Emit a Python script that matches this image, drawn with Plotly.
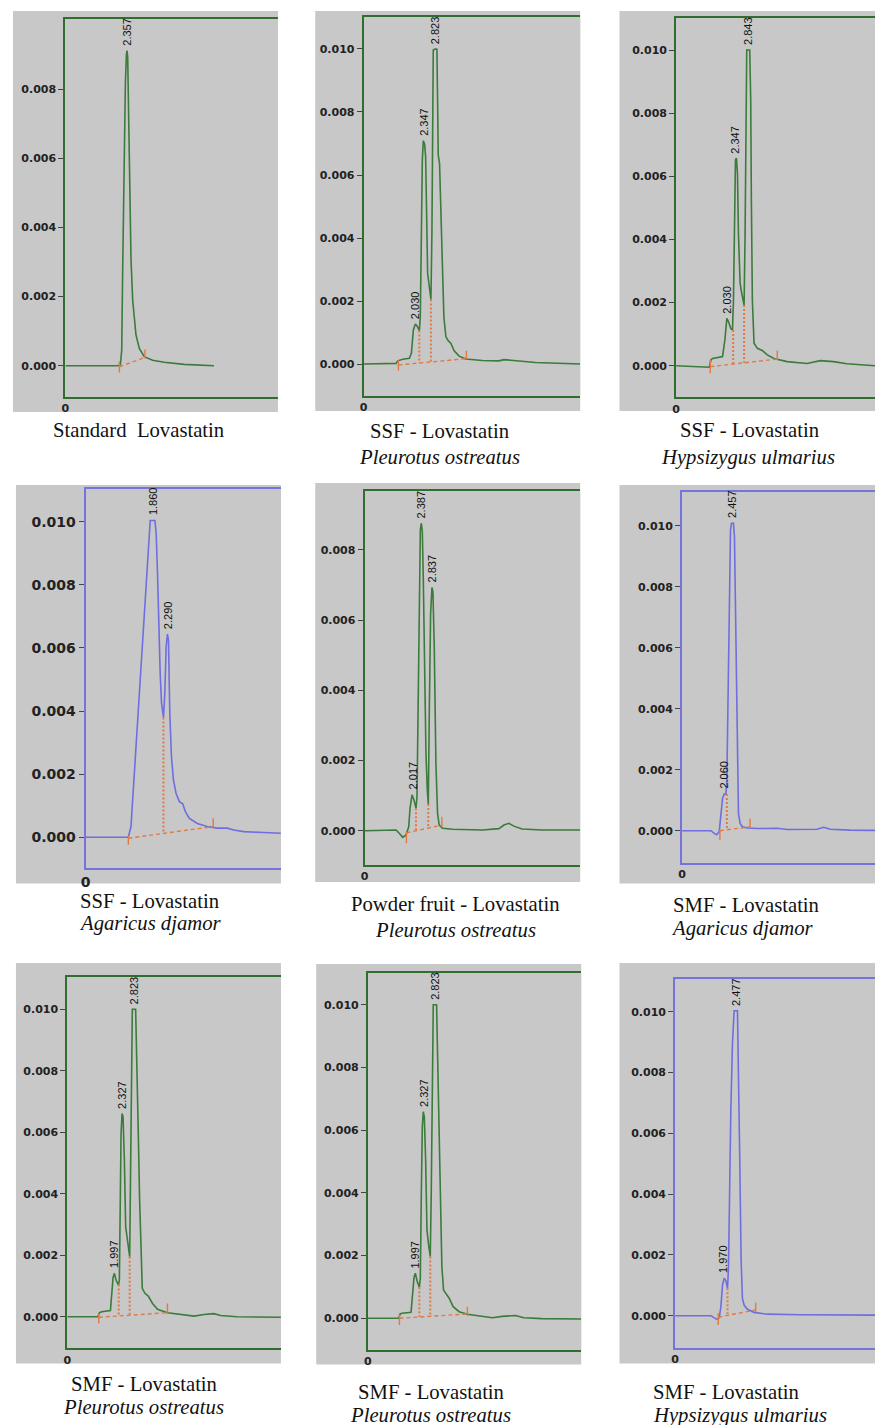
import plotly.graph_objects as go

W, H = 875, 1425

# ---------------- data (retention time in min, absorbance in AU) ----------------
caption_main = ["Standard  Lovastatin", "SSF - Lovastatin", "SSF - Lovastatin",
                "SSF - Lovastatin", "Powder fruit - Lovastatin", "SMF - Lovastatin",
                "SMF - Lovastatin", "SMF - Lovastatin", "SMF - Lovastatin"]
caption_species = ["", "Pleurotus ostreatus", "Hypsizygus ulmarius",
                   "Agaricus djamor", "Pleurotus ostreatus", "Agaricus djamor",
                   "Pleurotus ostreatus", "Pleurotus ostreatus", "Hypsizygus ulmarius"]
y_tick_values = [0.000, 0.002, 0.004, 0.006, 0.008, 0.010]
x_tick_values = [0]
x_tick_labels = ["0"]

# Panel 1: Standard lovastatin
p1_time = [0, 2.001, 2.103, 2.153, 2.191, 2.242, 2.293, 2.331, 2.356, 2.381, 2.407, 2.432,
           2.457, 2.508, 2.572, 2.635, 2.698, 2.825, 3.015, 3.332, 3.776, 4.536, 5.677]
p1_abs = [0, 0, 0.00003, 0.00045, 0.00287, 0.00576, 0.00817, 0.00899, 0.00912, 0.00894, 0.00769,
          0.00624, 0.00479, 0.00306, 0.0019, 0.00127, 0.00089, 0.0005, 0.00026, 0.00016, 0.0001,
          0.00004, 0]
p1_peak_rt = [2.357]
p1_peak_abs = [0.00912]
p1_base_t = [2.065, 3.041]
p1_base_v = [-0.00003, 0.00024]
p1_mark_hi = [0.00012, 0.00047]
p1_mark_lo = [-0.0002, 0.00021]
p1_drop_t, p1_drop_top, p1_drop_bot = [], [], []

# Panel 2: SSF - Pleurotus ostreatus
p2_time = [0, 1.28, 1.345, 1.541, 1.803, 1.881, 1.96, 2.038, 2.116, 2.195, 2.234, 2.273, 2.313,
           2.352, 2.404, 2.443, 2.482, 2.522, 2.587, 2.652, 2.691, 2.718, 2.744, 2.809, 2.888,
           2.914, 2.94, 2.992, 3.031, 3.084, 3.162, 3.24, 3.332, 3.436, 3.567, 3.764, 4.025,
           4.678, 5.332, 5.528, 5.789, 6.247, 6.77, 8.535]
p2_abs = [0, 0.00002, 0.0001, 0.00015, 0.00018, 0.00034, 0.00108, 0.00127, 0.00119, 0.00106,
          0.0015, 0.00415, 0.00648, 0.00709, 0.00698, 0.00658, 0.00415, 0.00288, 0.00246, 0.00205,
          0.00415, 0.00732, 0.00997, 0.0100, 0.00999, 0.00838, 0.00663, 0.00637, 0.00521, 0.00309,
          0.0015, 0.00087, 0.00074, 0.00066, 0.00042, 0.00025, 0.00016, 0.00011, 0.0001, 0.00014,
          0.00012, 0.00008, 0.00005, 0]
p2_peak_rt = [2.030, 2.347, 2.823]
p2_peak_abs = [0.00127, 0.00709, 0.0100]
p2_base_t = [1.371, 4.051]
p2_base_v = [-0.00003, 0.00017]
p2_mark_hi = [0.00013, 0.00042]
p2_mark_lo = [-0.00021, 0.00015]
p2_drop_t = [2.195, 2.652]
p2_drop_top = [0.00106, 0.00205]
p2_drop_bot = [0.00003, 0.00007]

# Panel 3: SSF - Hypsizygus ulmarius
p3_time = [0, 1.115, 1.312, 1.378, 1.444, 1.837, 1.929, 2.008, 2.074, 2.165, 2.231, 2.27, 2.31,
           2.349, 2.389, 2.428, 2.467, 2.533, 2.598, 2.69, 2.73, 2.769, 2.795, 2.913, 2.953,
           2.979, 3.018, 3.084, 3.215, 3.412, 3.609, 3.871, 4.396, 5.184, 5.709, 6.234, 6.759,
           7.874]
p3_abs = [0, -0.00003, -0.00005, 0.00018, 0.00023, 0.00029, 0.00081, 0.0015, 0.00139, 0.00118,
          0.00113, 0.00208, 0.00472, 0.00652, 0.00657, 0.00609, 0.00419, 0.00261, 0.00229,
          0.00192, 0.00419, 0.00736, 0.0100, 0.0100, 0.00842, 0.00525, 0.00208, 0.00071, 0.00055,
          0.00048, 0.00034, 0.00023, 0.00013, 0.00007, 0.00016, 0.00013, 0.00006, 0]
p3_peak_rt = [2.030, 2.347, 2.843]
p3_peak_abs = [0.0015, 0.00657, 0.0100]
p3_base_t = [1.352, 4.003]
p3_base_v = [-0.00003, 0.00021]
p3_mark_hi = [0.00018, 0.00048]
p3_mark_lo = [-0.00024, 0.00018]
p3_drop_t = [2.257, 2.69]
p3_drop_top = [0.00113, 0.00192]
p3_drop_bot = [0.00005, 0.00009]

# Panel 4: SSF - Agaricus djamor
p4_time = [0, 1.188, 1.262, 1.4, 1.538, 1.676, 1.749, 1.796, 1.925, 1.961, 1.998, 2.035, 2.072,
           2.109, 2.164, 2.201, 2.238, 2.274, 2.302, 2.339, 2.385, 2.44, 2.514, 2.606, 2.698,
           2.772, 2.882, 3.103, 3.379, 3.656, 3.932, 4.116, 4.392, 4.945, 5.424]
p4_abs = [0, 0, 0.00034, 0.00287, 0.00552, 0.00816, 0.00953, 0.01004, 0.01004, 0.00964, 0.00837,
          0.00657, 0.0052, 0.00425, 0.0038, 0.00456, 0.00604, 0.00644, 0.00625, 0.00393, 0.00256,
          0.00182, 0.00139, 0.00113, 0.00106, 0.00081, 0.0006, 0.00044, 0.00034, 0.00029,
          0.00029, 0.00023, 0.00018, 0.00015, 0.00013]
p4_peak_rt = [1.860, 2.290]
p4_peak_abs = [0.01004, 0.00644]
p4_base_t = [1.188, 3.545]
p4_base_v = [-0.00003, 0.00034]
p4_mark_hi = [0.00004, 0.0006]
p4_mark_lo = [-0.00024, 0.00029]
p4_drop_t = [2.164]
p4_drop_top = [0.0038]
p4_drop_bot = [0.00012]

# Panel 5: Powder fruit - Pleurotus ostreatus
p5_time = [0, 1.326, 1.466, 1.606, 1.746, 1.857, 1.913, 1.997, 2.081, 2.165, 2.207, 2.249, 2.305,
           2.347, 2.389, 2.431, 2.473, 2.528, 2.584, 2.64, 2.682, 2.724, 2.78, 2.836, 2.878,
           2.934, 3.003, 3.073, 3.143, 3.283, 3.702, 4.96, 5.659, 5.869, 6.078, 6.288, 6.637,
           7.476, 9.083]
p5_abs = [0, 0.00002, -0.00008, -0.00019, -0.00012, 0.00011, 0.00064, 0.00102, 0.00087, 0.00064,
          0.00097, 0.00334, 0.00714, 0.00857, 0.00876, 0.00852, 0.00714, 0.00429, 0.0022, 0.00116,
          0.00076, 0.00334, 0.00619, 0.00693, 0.00681, 0.00524, 0.00192, 0.00049, 0.00016,
          0.00007, 0.00004, 0.00002, 0.00006, 0.00016, 0.00021, 0.00013, 0.00005, 0.00002, 0.00002]
p5_peak_rt = [2.017, 2.387, 2.837]
p5_peak_abs = [0.00102, 0.00876, 0.00693]
p5_base_t = [1.76, 3.255]
p5_base_v = [-0.00006, 0.00016]
p5_mark_hi = [-0.00004, 0.0004]
p5_mark_lo = [-0.00036, 0.00011]
p5_drop_t = [2.165, 2.682]
p5_drop_top = [0.00064, 0.00076]
p5_drop_bot = [-0.00002, 0.00007]

# Panel 6: SMF - Agaricus djamor
p6_time = [0, 1.401, 1.562, 1.675, 1.803, 1.884, 1.965, 2.045, 2.126, 2.174, 2.222, 2.287, 2.351,
           2.4, 2.496, 2.544, 2.609, 2.673, 2.738, 2.818, 2.931, 3.172, 3.655, 4.622, 5.105,
           6.554, 6.876, 7.198, 8.164, 9.372]
p6_abs = [0, 0, -0.00009, -0.00013, -0.00003, 0.00057, 0.00106, 0.0012, 0.0012, 0.00166, 0.00385,
          0.00713, 0.00986, 0.01008, 0.01008, 0.00964, 0.00603, 0.00221, 0.00057, 0.00024,
          0.00013, 0.00009, 0.00007, 0.00008, 0.00004, 0.00005, 0.00011, 0.00005, 0.00002, 0.00001]
p6_peak_rt = [2.060, 2.457]
p6_peak_abs = [0.0012, 0.01008]
p6_base_t = [1.836, 3.301]
p6_base_v = [0.0, 0.00013]
p6_mark_hi = [0.00002, 0.0004]
p6_mark_lo = [-0.00031, 0.00011]
p6_drop_t = [2.174]
p6_drop_top = [0.0012]
p6_drop_bot = [0.00002]

# Panel 7: SMF - Pleurotus ostreatus
p7_time = [0, 1.287, 1.357, 1.455, 1.819, 1.875, 1.931, 1.987, 2.058, 2.155, 2.197, 2.239, 2.268,
           2.31, 2.352, 2.408, 2.463, 2.52, 2.576, 2.632, 2.66, 2.702, 2.744, 2.884, 2.94, 2.996,
           3.052, 3.108, 3.164, 3.276, 3.416, 3.598, 3.808, 4.228, 4.789, 5.349, 5.769, 6.189,
           6.469, 7.169, 9.018]
p7_abs = [0, 0, 0.00013, 0.00016, 0.0002, 0.00076, 0.00128, 0.00141, 0.00119, 0.00103, 0.00119,
          0.00401, 0.00596, 0.00661, 0.0065, 0.00509, 0.00293, 0.0026, 0.00222, 0.00195, 0.00401,
          0.00726, 0.0100, 0.0100, 0.00835, 0.00596, 0.00379, 0.00184, 0.00092, 0.00076, 0.00067,
          0.00043, 0.00024, 0.00013, 0.00008, 0.00002, 0.00007, 0.0001, 0.00004, 0, -0.00002]
p7_peak_rt = [1.997, 2.327, 2.823]
p7_peak_abs = [0.00141, 0.00661, 0.0100]
p7_base_t = [1.329, 4.228]
p7_base_v = [-0.00002, 0.00013]
p7_mark_hi = [0.00011, 0.00043]
p7_mark_lo = [-0.00022, 0.00011]
p7_drop_t = [2.17, 2.632]
p7_drop_top = [0.00105, 0.00195]
p7_drop_bot = [0.00002, 0.00005]

# Panel 8: SMF - Pleurotus ostreatus (replicate)
p8_time = [0, 1.297, 1.353, 1.436, 1.813, 1.883, 1.939, 1.994, 2.064, 2.162, 2.204, 2.246, 2.287,
           2.329, 2.371, 2.427, 2.483, 2.552, 2.622, 2.664, 2.706, 2.748, 2.887, 2.929, 2.985,
           3.04, 3.11, 3.18, 3.277, 3.417, 3.585, 3.836, 4.184, 4.672, 5.23, 5.649, 6.206, 6.555,
           7.322, 8.968]
p8_abs = [0, 0, 0.00014, 0.00016, 0.00019, 0.0008, 0.00131, 0.00144, 0.0012, 0.00099, 0.00128,
          0.00399, 0.00611, 0.00659, 0.00643, 0.00505, 0.00282, 0.00234, 0.00197, 0.00399, 0.00718,
          0.0100, 0.0100, 0.00824, 0.0059, 0.00377, 0.00165, 0.0009, 0.00078, 0.00064, 0.00037,
          0.00021, 0.00013, 0.00007, 0.00002, 0.00006, 0.00009, 0.00002, -0.00001, -0.00002]
p8_peak_rt = [1.997, 2.327, 2.823]
p8_peak_abs = [0.00144, 0.00659, 0.0100]
p8_base_t = [1.325, 4.184]
p8_base_v = [0.0, 0.00014]
p8_mark_hi = [0.00011, 0.00037]
p8_mark_lo = [-0.00021, 0.00007]
p8_drop_t = [2.162, 2.622]
p8_drop_top = [0.00099, 0.00197]
p8_drop_bot = [0.00004, 0.00006]

# Panel 9: SMF - Hypsizygus ulmarius
p9_time = [0, 1.452, 1.586, 1.694, 1.788, 1.855, 1.922, 1.989, 2.056, 2.124, 2.164, 2.204, 2.258,
           2.325, 2.392, 2.527, 2.567, 2.621, 2.675, 2.729, 2.796, 2.93, 3.199, 3.737, 5.081, 8.105]
p9_abs = [0, 0, -0.00007, -0.00012, -0.00007, 0.0003, 0.00101, 0.00123, 0.00115, 0.0009, 0.00161,
          0.00402, 0.00677, 0.00896, 0.01003, 0.01003, 0.00841, 0.00512, 0.00183, 0.00057,
          0.00035, 0.00021, 0.00011, 0.00005, 0.00003, 0.00002]
p9_peak_rt = [1.970, 2.477]
p9_peak_abs = [0.00123, 0.01003]
p9_base_t = [1.747, 3.266]
p9_base_v = [-0.00005, 0.00019]
p9_mark_hi = [0.00008, 0.00043]
p9_mark_lo = [-0.00031, 0.00013]
p9_drop_t = [2.124]
p9_drop_top = [0.0009]
p9_drop_bot = [0.00001]

series = [
    (p1_time, p1_abs, p1_peak_rt, p1_peak_abs, p1_base_t, p1_base_v, p1_mark_hi, p1_mark_lo, p1_drop_t, p1_drop_top, p1_drop_bot),
    (p2_time, p2_abs, p2_peak_rt, p2_peak_abs, p2_base_t, p2_base_v, p2_mark_hi, p2_mark_lo, p2_drop_t, p2_drop_top, p2_drop_bot),
    (p3_time, p3_abs, p3_peak_rt, p3_peak_abs, p3_base_t, p3_base_v, p3_mark_hi, p3_mark_lo, p3_drop_t, p3_drop_top, p3_drop_bot),
    (p4_time, p4_abs, p4_peak_rt, p4_peak_abs, p4_base_t, p4_base_v, p4_mark_hi, p4_mark_lo, p4_drop_t, p4_drop_top, p4_drop_bot),
    (p5_time, p5_abs, p5_peak_rt, p5_peak_abs, p5_base_t, p5_base_v, p5_mark_hi, p5_mark_lo, p5_drop_t, p5_drop_top, p5_drop_bot),
    (p6_time, p6_abs, p6_peak_rt, p6_peak_abs, p6_base_t, p6_base_v, p6_mark_hi, p6_mark_lo, p6_drop_t, p6_drop_top, p6_drop_bot),
    (p7_time, p7_abs, p7_peak_rt, p7_peak_abs, p7_base_t, p7_base_v, p7_mark_hi, p7_mark_lo, p7_drop_t, p7_drop_top, p7_drop_bot),
    (p8_time, p8_abs, p8_peak_rt, p8_peak_abs, p8_base_t, p8_base_v, p8_mark_hi, p8_mark_lo, p8_drop_t, p8_drop_top, p8_drop_bot),
    (p9_time, p9_abs, p9_peak_rt, p9_peak_abs, p9_base_t, p9_base_v, p9_mark_hi, p9_mark_lo, p9_drop_t, p9_drop_top, p9_drop_bot),
]

# ---------------- layout geometry (pixels) & styles ----------------
GREEN_AX, GREEN_LN = "#2f6e2f", "#3b7b3b"
BLUE_AX, BLUE_LN = "#7474dc", "#6e6ee0"
ORANGE = "#e07a45"
GRAY = "#c8c8c8"
CAP_SIZE = 20.7

panels = [
    dict(gray=(8, 11, 274.5, 412), plot=(60.7, 274.5, 19, 396.7), yr=(-0.000897, 0.010035), xmax=8.12,
         blue=False, tfs=11, ytop=0.008, cap1=(135, 430.5), cap2=None),
    dict(gray=(312, 11, 578.5, 411), plot=(360.7, 578.5, 16.7, 395.7), yr=(-0.001006, 0.011025), xmax=8.535,
         blue=False, tfs=11, ytop=0.010, cap1=(437.5, 431), cap2=(437, 457)),
    dict(gray=(618, 11, 875, 411), plot=(675, 875, 18.3, 397.3), yr=(-0.001001, 0.011004), xmax=7.874,
         blue=False, tfs=11, ytop=0.010, cap1=(749, 430.5), cap2=(747, 458)),
    dict(gray=(11, 485, 277.5, 883.5), plot=(81, 277.5, 489.3, 867.7), yr=(-0.000964, 0.01103), xmax=5.424,
         blue=True, tfs=14, ytop=0.010, cap1=(146, 901), cap2=(146, 924)),
    dict(gray=(312, 483, 578.5, 882), plot=(361.7, 578.5, 491, 865), yr=(-0.000977, 0.009678), xmax=9.083,
         blue=False, tfs=11, ytop=0.008, cap1=(453, 904), cap2=(453, 930)),
    dict(gray=(618, 485, 875, 883.5), plot=(681, 875, 492.3, 862.7), yr=(-0.001049, 0.011095), xmax=9.372,
         blue=True, tfs=11, ytop=0.010, cap1=(746, 905.5), cap2=(742, 928.5)),
    dict(gray=(11, 963, 277.5, 1363.5), plot=(62.7, 277.5, 976.7, 1348.3), yr=(-0.001028, 0.011057), xmax=9.018,
         blue=False, tfs=11, ytop=0.010, cap1=(140, 1384), cap2=(139, 1407)),
    dict(gray=(313, 964, 579.5, 1364.5), plot=(365, 579.5, 973.3, 1350), yr=(-0.001011, 0.011005), xmax=8.968,
         blue=False, tfs=11, ytop=0.010, cap1=(429, 1391.5), cap2=(428, 1415)),
    dict(gray=(618, 963, 875, 1363.5), plot=(674, 875, 979, 1347.7), yr=(-0.001053, 0.011076), xmax=8.105,
         blue=True, tfs=11, ytop=0.010, cap1=(650, 1391.5), cap2=(650, 1415.5), left=True),
]

fig = go.Figure()
layout = dict(width=W, height=H, margin=dict(l=0, r=0, t=0, b=0),
              paper_bgcolor="white", plot_bgcolor=GRAY, showlegend=False)
shapes, annotations = [], []

for i, (P, S) in enumerate(zip(panels, series), start=1):
    t, a, prt, pab, bt, bv, mhi, mlo, dt, dtop, dbot = S
    xa = "x" if i == 1 else f"x{i}"
    ya = "y" if i == 1 else f"y{i}"
    axc = BLUE_AX if P["blue"] else GREEN_AX
    lnc = BLUE_LN if P["blue"] else GREEN_LN

    fig.add_trace(go.Scatter(x=t, y=a, mode="lines", line=dict(color=lnc, width=1.6),
                             xaxis=xa, yaxis=ya, hoverinfo="skip"))
    # integration baseline (dashed)
    fig.add_trace(go.Scatter(x=bt, y=bv, mode="lines", line=dict(color=ORANGE, width=1.4, dash="4px,3px"),
                             xaxis=xa, yaxis=ya, hoverinfo="skip"))
    # start / end marks
    mx, my = [], []
    for k in range(len(bt)):
        mx += [bt[k], bt[k], None]
        my += [mhi[k], mlo[k], None]
    fig.add_trace(go.Scatter(x=mx, y=my, mode="lines", line=dict(color=ORANGE, width=1.4),
                             xaxis=xa, yaxis=ya, hoverinfo="skip"))
    # drop lines (dotted)
    if dt:
        dx, dy = [], []
        for k in range(len(dt)):
            dx += [dt[k], dt[k], None]
            dy += [dtop[k], dbot[k], None]
        fig.add_trace(go.Scatter(x=dx, y=dy, mode="lines", line=dict(color=ORANGE, width=2, dash="2px,2px"),
                                 xaxis=xa, yaxis=ya, hoverinfo="skip"))

    xl, xr, top, bot = P["plot"]
    tickfont = dict(family="DejaVu Sans, Verdana, sans-serif", size=P["tfs"], color="#222", weight="bold")
    layout["xaxis" if i == 1 else f"xaxis{i}"] = dict(
        domain=[xl / W, xr / W], range=[0, P["xmax"]], anchor=ya,
        showline=True, mirror=True, linecolor=axc, linewidth=2,
        showgrid=False, zeroline=False, tickvals=x_tick_values, ticktext=x_tick_labels,
        ticks="", tickfont=tickfont, fixedrange=True)
    layout["yaxis" if i == 1 else f"yaxis{i}"] = dict(
        domain=[1 - bot / H, 1 - top / H], range=list(P["yr"]), anchor=xa,
        showline=True, mirror=False, linecolor=axc, linewidth=2,
        showgrid=False, zeroline=False,
        tickvals=[v for v in y_tick_values if v <= P["ytop"] + 1e-9], tickformat=".3f",
        ticks="outside", ticklen=5, tickwidth=1, tickcolor="#444", tickfont=tickfont, fixedrange=True)

    gl, gt, gr, gb = P["gray"]
    shapes.append(dict(type="rect", xref="paper", yref="paper", x0=gl / W, x1=gr / W,
                       y0=1 - gb / H, y1=1 - gt / H, fillcolor=GRAY, line=dict(width=0), layer="below"))

    for rt, ab in zip(prt, pab):
        annotations.append(dict(x=rt, y=ab, xref=xa, yref=ya, text=f"{rt:.3f}", showarrow=False,
                                textangle=-90, xanchor="center", yanchor="bottom", yshift=3,
                                font=dict(family="Liberation Sans Narrow, Liberation Sans, Arial", size=11, color="#111")))

    anchor = "left" if P.get("left") else "center"
    cx, cy = P["cap1"]
    annotations.append(dict(x=cx / W, y=1 - cy / H, xref="paper", yref="paper", text=caption_main[i - 1],
                            showarrow=False, xanchor=anchor, yanchor="middle",
                            font=dict(family="Liberation Serif, Times New Roman, serif", size=CAP_SIZE, color="#111")))
    if P["cap2"]:
        cx, cy = P["cap2"]
        annotations.append(dict(x=cx / W, y=1 - cy / H, xref="paper", yref="paper",
                                text=f"<i>{caption_species[i - 1]}</i>",
                                showarrow=False, xanchor=anchor, yanchor="middle",
                                font=dict(family="Liberation Serif, Times New Roman, serif", size=CAP_SIZE, color="#111")))

layout["shapes"] = shapes
layout["annotations"] = annotations
fig.update_layout(**layout)
fig.write_html("out.html", config={"displayModeBar": False, "staticPlot": True},
               post_script="document.body.style.margin='0';document.body.style.overflow='hidden';")
